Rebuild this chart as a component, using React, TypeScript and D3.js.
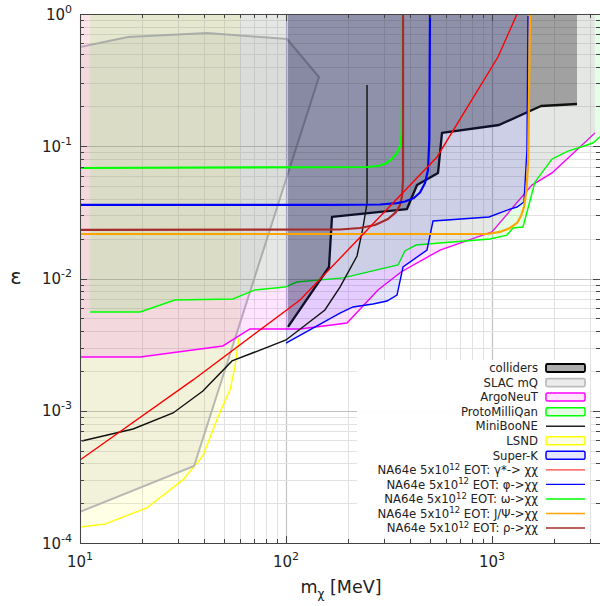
import React from 'react';
import * as d3 from 'd3';

// ---------- data (mass in MeV, epsilon) ----------
const lsndMass = [10, 13.2, 21.1, 31.6, 39.5, 46.8, 53.5, 56.5, 59.1];
const lsndEps = [1.32e-4, 1.39e-4, 1.84e-4, 3.0e-4, 4.55e-4, 9.0e-4, 1.44e-3, 2.14e-3, 3.55e-3];
const lsndEdgeMass = 59.6;

const slacMass = [10, 35.8, 144.5, 101.2, 41.4, 17.1, 10];
const slacEps = [1.72e-4, 3.82e-4, 0.334, 0.647, 0.718, 0.67, 0.563];

const argoMass = [10, 19.6, 49.4, 66.8, 117, 197.7, 279.6, 361.7, 559, 1000, 1563, 1956, 3162];
const argoEps = [2.55e-3, 2.55e-3, 3.09e-3, 4.15e-3, 4.15e-3, 4.61e-3, 8.19e-3, 0.0112, 0.0164, 0.0225, 0.0509, 0.0628, 0.126];

const pmqMass = [11.2, 19.6, 28.9, 55.3, 70.7, 99, 113, 189, 350, 378, 428, 559, 978, 1182, 1264, 1414, 1617, 1956, 2339, 2615, 3091, 3500];
const pmqEps = [0.00558, 0.00558, 0.00688, 0.007, 0.00819, 0.00862, 0.0094, 0.0101, 0.01265, 0.01614, 0.0179, 0.01855, 0.0199, 0.0213, 0.0241, 0.0245, 0.0537, 0.08, 0.092, 0.097, 0.1058, 0.125];

const mbMass = [10.2, 18.1, 28.3, 39.5, 54.7, 100, 154.5, 182.8, 221.2, 236.6, 247.4, 247.4];
const mbEps = [5.9e-4, 7.28e-4, 9.62e-4, 1.41e-3, 2.38e-3, 3.43e-3, 5.78e-3, 8.62e-3, 0.0148, 0.0245, 0.0372, 0.29];

const skMass = [100, 182.8, 211.5, 264.5, 309.2, 345.8, 369.9, 483.6, 517.2, 967, 1223, 1323, 1430, 1478, 1495];
const skEps = [0.00325, 0.00548, 0.00609, 0.00641, 0.00676, 0.0075, 0.01222, 0.01642, 0.0272, 0.0292, 0.0335, 0.0347, 0.0379, 0.0937, 0.966];

const colMass = [102.3, 161.7, 167.2, 386.5, 432.5, 547, 571.9, 1081, 1529, 1730, 2586];
const colEps = [0.0043, 0.01222, 0.0292, 0.0335, 0.0509, 0.0628, 0.126, 0.1448, 0.1847, 0.2015, 0.2087];

const gamMass = [10, 35.4, 117, 540.8, 1069, 1323];
const gamEps = [4.24e-4, 1.71e-3, 6.88e-3, 0.083, 0.473, 1];

const phiMass = [10, 163.5, 286, 345.8, 378.2, 418.1, 447.2, 473, 489, 496.1, 500];
const phiEps = [0.036, 0.036, 0.03627, 0.0372, 0.03823, 0.0406, 0.0447, 0.0527, 0.0661, 0.1115, 1];

const omMass = [10, 247.4, 279.6, 305.8, 327, 345.8, 357.6, 363.7, 365.8, 365.8];
const omEps = [0.0685, 0.0697, 0.0709, 0.0741, 0.0801, 0.0889, 0.1004, 0.1217, 0.2237, 1];

const jpsiMass = [10, 945.7, 1093, 1223, 1323, 1383, 1430, 1471, 1500, 1529];
const jpsiEps = [0.0217, 0.0217, 0.0225, 0.0241, 0.0263, 0.0297, 0.0347, 0.0467, 0.0787, 1];

const rhoMass = [10, 182.8, 228.7, 270.4, 312.7, 342, 357.6, 365.8, 369.9, 369.9];
const rhoEps = [0.0233, 0.02348, 0.0241, 0.02538, 0.02818, 0.0318, 0.036, 0.04205, 0.05557, 1];

const xDecades = [1, 2, 3];
const yDecades = [-4, -3, -2, -1, 0];

const legendLabels = ['colliders', 'SLAC mQ', 'ArgoNeuT', 'ProtoMilliQan', 'MiniBooNE', 'LSND', 'Super-K'];
const na64Channels = ['γ*-> χχ', 'φ->χχ', 'ω->χχ', 'J/Ψ->χχ', 'ρ->χχ'];

// ---------- layout ----------
const W = 600, H = 606;
const PL = 80, PR = 600, PT = 14, PB = 543;
const X_MAX = Math.pow(10, 1 + (PR - PL) / 206);

const FONT = 'DejaVu Sans, sans-serif';

export default function App() {
  const x = d3.scaleLog().domain([10, X_MAX]).range([PL, PR]);
  const y = d3.scaleLog().domain([1e-4, 1]).range([PB, PT]);
  const pts = (ms: number[], es: number[]) => ms.map((m, i) => [x(m), y(es[i])] as [number, number]);
  const lin = d3.line();
  const upTo = (ms: number[], es: number[], mEdge?: number) => {
    const p = pts(ms, es);
    const last = mEdge ?? ms[ms.length - 1];
    p.push([x(last), y(1)]);
    p.push([x(ms[0]), y(1)]);
    return lin(p) + 'Z';
  };

  const xMinor: number[] = [];
  for (let d = 1; d <= 3; d++) for (let k = 1; k <= 9; k++) {
    const v = k * Math.pow(10, d);
    if (v <= X_MAX) xMinor.push(v);
  }
  const yMinor: number[] = [];
  for (let d = -4; d <= -1; d++) for (let k = 1; k <= 9; k++) yMinor.push(k * Math.pow(10, d));
  yMinor.push(1);

  const isMajor = (v: number) => Math.abs(Math.log10(v) - Math.round(Math.log10(v))) < 1e-9;
  const px = (v: number) => Math.round(v) + 0.5;

  const rowY = (i: number) => 368 + i * 14.55;
  const sw0 = 546, sw1 = 585;

  return (
    <svg width={W} height={H} style={{ position: 'absolute', left: 0, top: 0, background: '#fff' }} fontFamily={FONT}>
      <defs>
        <clipPath id="plotClip">
          <rect x={PL} y={PT} width={PR - PL} height={PB - PT} />
        </clipPath>
      </defs>
      <rect x={0} y={0} width={W} height={H} fill="#fff" />
      {/* grid */}
      <g>
        {xMinor.map((v, i) => (
          <line key={'gx' + i} x1={px(x(v))} x2={px(x(v))} y1={PT} y2={PB}
            stroke={isMajor(v) ? '#c2c2c2' : '#e2e2e2'} strokeWidth={isMajor(v) ? 1.2 : 1} />
        ))}
        {yMinor.map((v, i) => (
          <line key={'gy' + i} x1={PL} x2={PR} y1={px(y(v))} y2={px(y(v))}
            stroke={isMajor(v) ? '#c2c2c2' : '#e2e2e2'} strokeWidth={isMajor(v) ? 1.2 : 1} />
        ))}
      </g>
      <g clipPath="url(#plotClip)">
        {/* LSND */}
        <path d={upTo(lsndMass, lsndEps, lsndEdgeMass)} fill="#ffff00" fillOpacity={0.1} />
        <path d={lin(pts(lsndMass, lsndEps)) || ''} fill="none" stroke="#ffff00" strokeWidth={1.4} />
        {/* SLAC */}
        <path d={lin(pts(slacMass, slacEps)) + 'Z'} fill="#808080" fillOpacity={0.1} stroke="#b0b0b0" strokeOpacity={0.9} strokeWidth={2} />
        {/* ArgoNeuT */}
        <path d={upTo(argoMass, argoEps)} fill="#ff00ff" fillOpacity={0.1} />
        <path d={lin(pts(argoMass, argoEps)) || ''} fill="none" stroke="#ff00ff" strokeWidth={1.4} />
        {/* ProtoMilliQan */}
        <path d={upTo(pmqMass, pmqEps)} fill="#00ff00" fillOpacity={0.1} />
        <path d={lin(pts(pmqMass, pmqEps)) || ''} fill="none" stroke="#00ff00" strokeWidth={1.4} />
        {/* colliders */}
        <path d={upTo(colMass, colEps)} fill="#000" fillOpacity={0.3} />
        <path d={lin(pts(colMass, colEps)) || ''} fill="none" stroke="#111" strokeWidth={2.3} strokeLinejoin="round" />
        {/* Super-K */}
        <path d={upTo(skMass, skEps)} fill="#0000ff" fillOpacity={0.1} />
        <path d={lin(pts(skMass, skEps)) || ''} fill="none" stroke="#0000ff" strokeWidth={1.4} />
        {/* MiniBooNE */}
        <path d={lin(pts(mbMass, mbEps)) || ''} fill="none" stroke="#111" strokeWidth={1.4} />
        {/* NA64 projections */}
        <path d={lin(pts(omMass, omEps)) || ''} fill="none" stroke="#00ff00" strokeWidth={2.2} strokeLinejoin="round" />
        <path d={lin(pts(rhoMass, rhoEps)) || ''} fill="none" stroke="#a52a2a" strokeWidth={2.2} strokeLinejoin="round" />
        <path d={lin(pts(phiMass, phiEps)) || ''} fill="none" stroke="#0000ff" strokeWidth={2.2} strokeLinejoin="round" />
        <path d={lin(pts(jpsiMass, jpsiEps)) || ''} fill="none" stroke="#ffa500" strokeWidth={2.2} strokeLinejoin="round" />
        <path d={lin(pts(gamMass, gamEps)) || ''} fill="none" stroke="#ff0000" strokeWidth={1.4} />
      </g>

      {/* legend */}
      <rect x={357} y={360} width={233} height={177} fill="#fff" fillOpacity={0.95} />
      <g fontSize={11.7} fill="#222">
        {legendLabels.map((t, i) => (
          <text key={'lt' + i} x={538} y={rowY(i) + 4.2} textAnchor="end">{t}</text>
        ))}
        {na64Channels.map((t, i) => (
          <text key={'ln' + i} x={538} y={rowY(i + 7) + 4.2} textAnchor="end">
            NA64e 5x10<tspan dy={-4.5} fontSize={8.5}>12</tspan><tspan dy={4.5}> EOT: {t}</tspan>
          </text>
        ))}
      </g>
      <rect x={sw0} y={rowY(0) - 4} width={sw1 - sw0} height={8} rx={1.5} fill="#000" fillOpacity={0.32} stroke="#000" strokeWidth={1.8} />
      <rect x={sw0} y={rowY(1) - 4} width={sw1 - sw0} height={8} rx={1.5} fill="#808080" fillOpacity={0.15} stroke="#bdbdbd" strokeWidth={1.8} />
      <rect x={sw0} y={rowY(2) - 4} width={sw1 - sw0} height={8} rx={1.5} fill="#ff00ff" fillOpacity={0.1} stroke="#ff00ff" strokeWidth={1.5} />
      <rect x={sw0} y={rowY(3) - 4} width={sw1 - sw0} height={8} rx={1.5} fill="#00ff00" fillOpacity={0.1} stroke="#00ff00" strokeWidth={1.5} />
      <line x1={sw0} x2={sw1} y1={rowY(4)} y2={rowY(4)} stroke="#222" strokeWidth={1.4} />
      <rect x={sw0} y={rowY(5) - 4} width={sw1 - sw0} height={8} rx={1.5} fill="#ffff00" fillOpacity={0.1} stroke="#ffff00" strokeWidth={1.5} />
      <rect x={sw0} y={rowY(6) - 4} width={sw1 - sw0} height={8} rx={1.5} fill="#0000ff" fillOpacity={0.1} stroke="#0000ff" strokeWidth={1.5} />
      {['#ff4040', '#0000ff', '#00ff00', '#ffa500', '#a52a2a'].map((c, i) => (
        <line key={'ll' + i} x1={sw0} x2={sw1} y1={rowY(7 + i)} y2={rowY(7 + i)} stroke={c} strokeWidth={1.4} />
      ))}

      {/* frame & ticks */}
      <g stroke="#444" strokeWidth={1}>
        <line x1={PL + 0.5} x2={PL + 0.5} y1={PT} y2={PB} />
        <line x1={PL} x2={PR} y1={PT + 0.5} y2={PT + 0.5} />
        <line x1={PL} x2={PR} y1={PB + 0.5} y2={PB + 0.5} />
        {xMinor.map((v, i) => {
          const L = isMajor(v) ? 7 : 4;
          return (
            <g key={'tx' + i}>
              <line x1={px(x(v))} x2={px(x(v))} y1={PB} y2={PB - L} />
              <line x1={px(x(v))} x2={px(x(v))} y1={PT} y2={PT + L} />
            </g>
          );
        })}
        {yMinor.map((v, i) => {
          const L = isMajor(v) ? 7 : 4;
          return (
            <g key={'ty' + i}>
              <line x1={PL} x2={PL + L} y1={px(y(v))} y2={px(y(v))} />
              <line x1={PR} x2={PR - L} y1={px(y(v))} y2={px(y(v))} />
            </g>
          );
        })}
      </g>

      {/* tick labels */}
      <g fontSize={15} fill="#222">
        {yDecades.map((d) => (
          <text key={'yl' + d} x={72} y={y(Math.pow(10, d)) + 5.5} textAnchor="end">
            10<tspan dy={-7} fontSize={11}>{String(d)}</tspan>
          </text>
        ))}
        {xDecades.map((d) => (
          <text key={'xl' + d} x={x(Math.pow(10, d))} y={567} textAnchor="middle">
            10<tspan dy={-7} fontSize={11}>{String(d)}</tspan>
          </text>
        ))}
      </g>

      {/* axis titles */}
      <text x={16} y={284} fontSize={21} textAnchor="middle" fill="#222">ε</text>
      <text x={341} y={593} fontSize={17.5} textAnchor="middle" fill="#222">
        m<tspan dy={5} fontSize={12}>χ</tspan><tspan dy={-5}> [MeV]</tspan>
      </text>
    </svg>
  );
}
